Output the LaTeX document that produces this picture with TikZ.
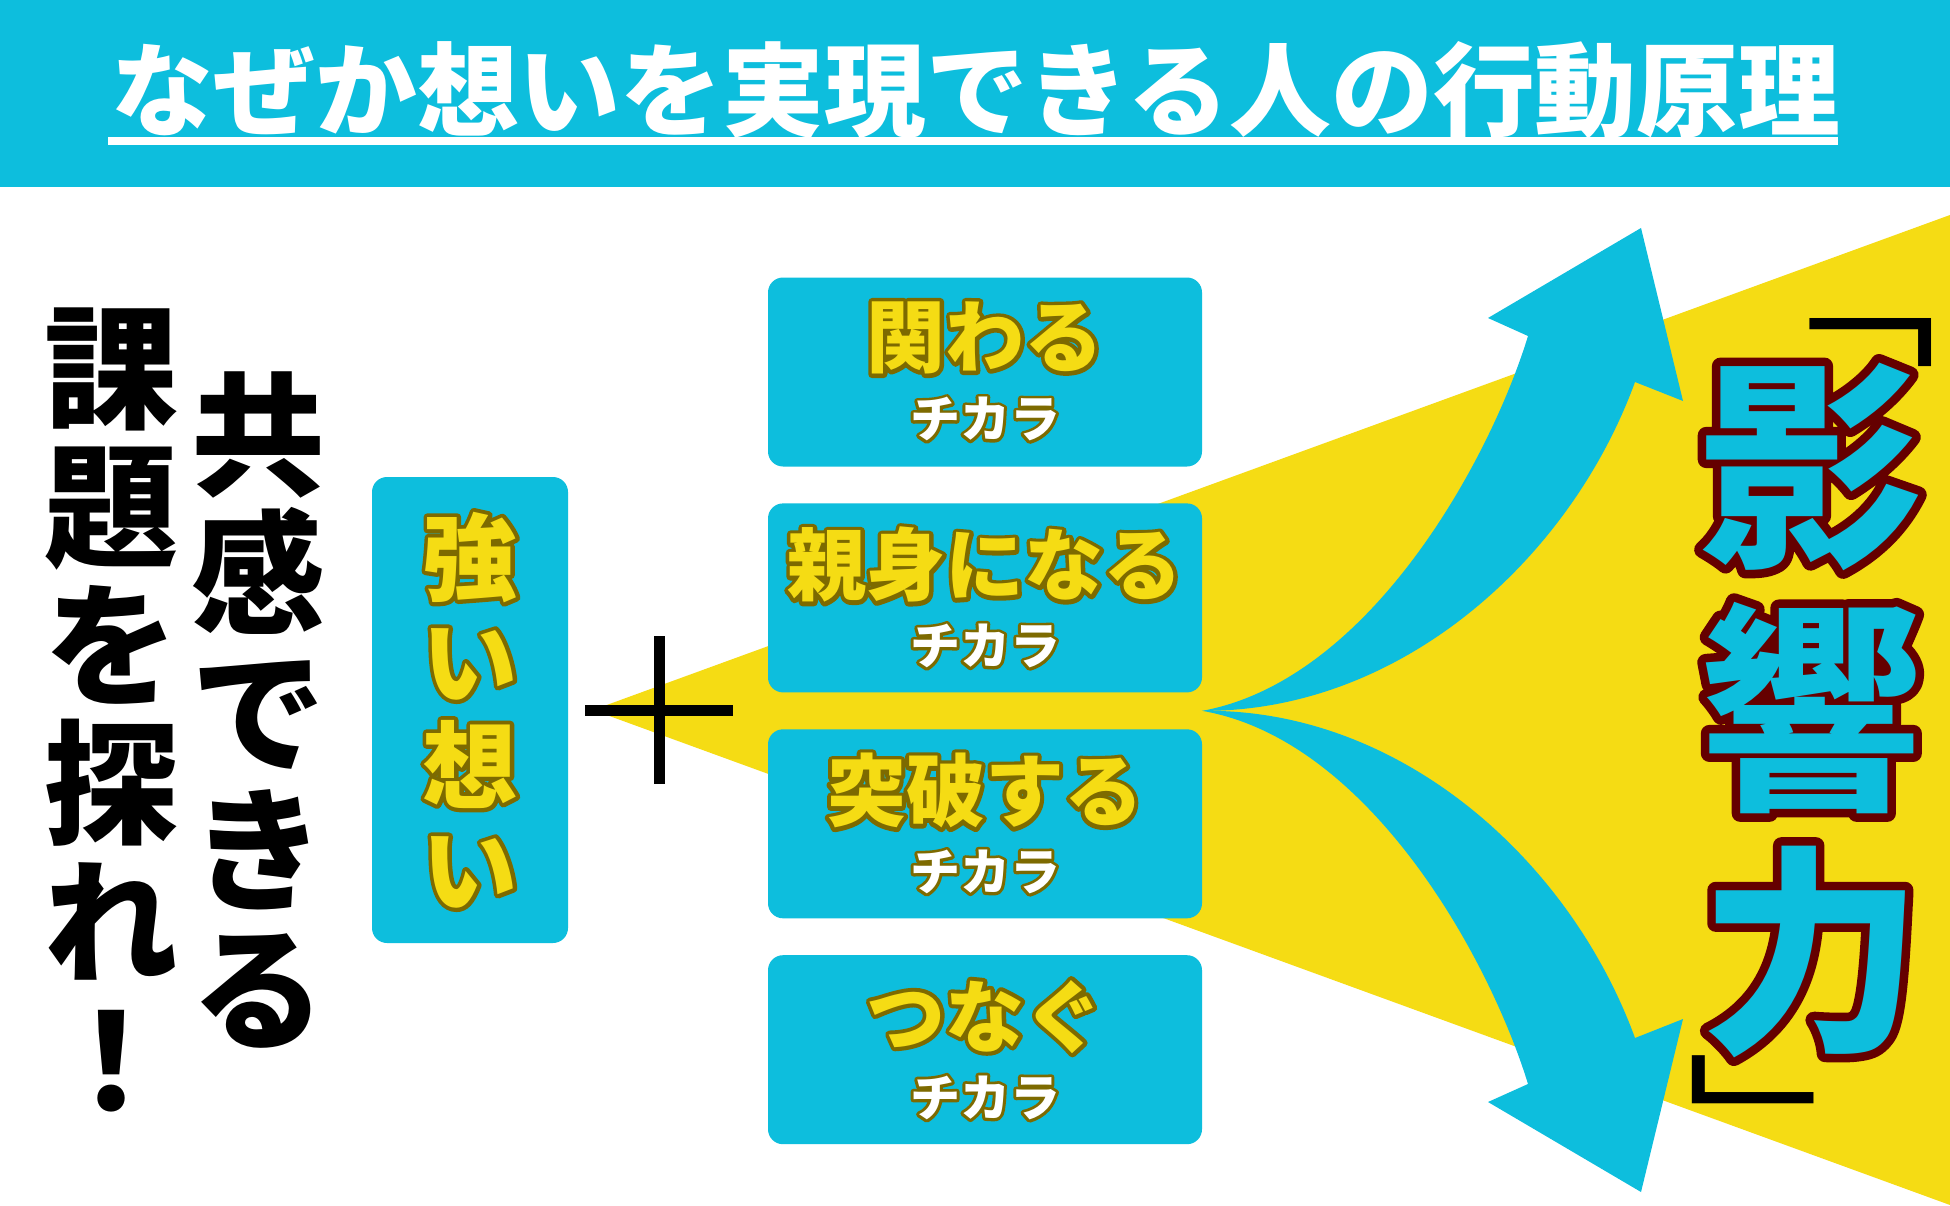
\documentclass[tikz,border=0pt]{standalone}
\usepackage{fontspec}
\usetikzlibrary{calc,positioning}
\newfontfamily\jpfont{Noto Sans CJK JP}
\definecolor{barcyan}{HTML}{0DBEDD}
\definecolor{beamyellow}{HTML}{F5DC14}
\definecolor{olivering}{HTML}{7D6A00}
\definecolor{maroonring}{HTML}{650000}
% outlined text: a stroked copy below, the plain text on top
\newcommand\ringed[3]{\leavevmode\rlap{\textcolor{#1}{\special{pdf:literal direct 1 j #2 w 2 Tr}#3\special{pdf:literal direct 0 Tr}}}#3}
\tikzset{
  headline/.style={
    text=white,
    inner sep=0pt,
    font=\jpfont\bfseries\fontsize{101.8}{101.8}\selectfont
  },
  headrule/.style={draw=white, line width=8pt},
  column/.style={
    align=center,
    inner sep=0pt,
    text=black,
    font=\jpfont\bfseries\fontsize{134}{138.5}\selectfont
  },
  omoibox/.style={
    rounded corners=15pt,
    fill=barcyan,
    minimum width=196pt,
    minimum height=466pt,
    inner sep=0pt,
    align=center,
    text=beamyellow,
    font=\jpfont\bfseries\fontsize{95}{104}\selectfont
  },
  plusbar/.style={draw=black, line width=11pt},
  power/.style={
    rounded corners=15pt,
    fill=barcyan,
    minimum width=434pt,
    minimum height=189pt,
    inner sep=0pt
  },
  powertext/.style={
    text=beamyellow,
    inner sep=0pt,
    font=\jpfont\bfseries\fontsize{79}{79}\selectfont
  },
  chikara/.style={
    text=white,
    inner sep=0pt,
    font=\jpfont\bfseries\fontsize{50}{50}\selectfont
  },
  sweep/.style={fill=barcyan},
  impact/.style={
    align=center,
    inner sep=0pt,
    text=barcyan,
    font=\jpfont\bfseries\fontsize{222}{243}\selectfont
  },
  % corner brackets of vertical writing, squeezed to thin arms
  bracketmark/.style={
    inner sep=0pt,
    text=black,
    yscale=0.81,
    rotate=-90,
    font=\jpfont\fontsize{188}{188}\selectfont
  }
}

\begin{document}
\begin{tikzpicture}[x=1pt, y=-1pt, node distance=36.5pt]
  \fill[white] (0,0) rectangle (1950,1206);
  \useasboundingbox (0,0) rectangle (1950,1206);

  % title bar
  \fill[barcyan] (0,0) rectangle (1950,187);
  \node[headline] (title) at (976,90) {なぜか想いを実現できる人の行動原理};
  \draw[headrule] (108,141) -- (1838,141);

  % light beam behind the boxes
  \coordinate (apex) at (593,710);
  \fill[beamyellow] (apex) -- (1950,215) -- (1950,1205) -- cycle;

  \node[column] (kadai) at (111,710) {課\\題\\を\\探\\れ\\！};
  \node[column] (kyokan) at (258,710) {共\\感\\で\\き\\る};

  \node[omoibox] (omoi) at (470,710) {%
    \ringed{olivering}{8}{強}\\\ringed{olivering}{8}{い}\\%
    \ringed{olivering}{8}{想}\\\ringed{olivering}{8}{い}};

  \coordinate (plus) at (659,710);
  \draw[plusbar] ([xshift=-74pt]plus) -- ([xshift=74pt]plus);
  \draw[plusbar] ([yshift=74pt]plus) -- ([yshift=-74pt]plus);

  \node[power] (kakawaru) at (985,372) {};
  \node[power, below=of kakawaru] (shinmi) {};
  \node[power, below=of shinmi] (toppa) {};
  \node[power, below=of toppa] (tsunagu) {};

  \node[powertext] (kakawarutext) at ([yshift=34pt]kakawaru.center) {\ringed{olivering}{8}{関わる}};
  \node[chikara] (kakawarusub) at ([yshift=-47pt]kakawaru.center) {\ringed{olivering}{6}{チカラ}};
  \node[powertext] (shinmitext) at ([yshift=33pt]shinmi.center) {\ringed{olivering}{8}{親身になる}};
  \node[chikara] (shinmisub) at ([yshift=-48pt]shinmi.center) {\ringed{olivering}{6}{チカラ}};
  \node[powertext] (toppatext) at ([yshift=33pt]toppa.center) {\ringed{olivering}{8}{突破する}};
  \node[chikara] (toppasub) at ([yshift=-48pt]toppa.center) {\ringed{olivering}{6}{チカラ}};
  \node[powertext] (tsunagutext) at ([yshift=33pt]tsunagu.center) {\ringed{olivering}{8}{つなぐ}};
  \node[chikara] (tsunagusub) at ([yshift=-48pt]tsunagu.center) {\ringed{olivering}{6}{チカラ}};

  % two sweeping arrows out of the gap between the boxes
  \coordinate (fork) at ($(shinmi.south east)!0.5!(toppa.north east)$);
  \fill[sweep] (fork) .. controls (1370,680) and (1490,460) .. (1528,336)
    -- (1488,318) -- (1641,228) -- (1683,401) -- (1635,382)
    .. controls (1570,560) and (1400,712) .. (fork) -- cycle;
  \fill[sweep] (fork) .. controls (1370,740) and (1490,960) .. (1528,1084)
    -- (1488,1102) -- (1641,1192) -- (1683,1019) -- (1635,1038)
    .. controls (1570,860) and (1400,708) .. (fork) -- cycle;

  \node[impact] (eikyo) at (1811,710) {%
    \ringed{maroonring}{17}{影}\\\ringed{maroonring}{17}{響}\\\ringed{maroonring}{17}{力}};
  \node[bracketmark] (openmark) at (1852,296) {「};
  \node[bracketmark] (closemark) at (1753,1127) {」};
\end{tikzpicture}
\end{document}
